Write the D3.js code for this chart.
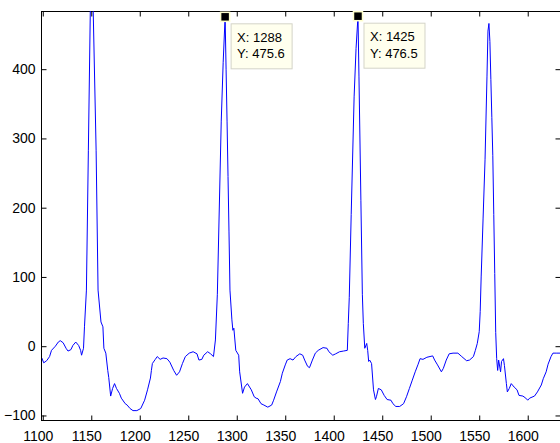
<!DOCTYPE html>
<html>
<head>
<meta charset="utf-8">
<script src="https://cdn.jsdelivr.net/npm/d3@7"></script>
<style>
  body { margin: 0; background: #fff; }
  svg { display: block; font-family: "Liberation Sans", Arial, sans-serif; }
  .axis text { font-size: 14px; fill: #000; }
  .axis line { stroke: #000; }
</style>
</head>
<body>
<svg id="chart" width="560" height="443"></svg>
<script>
// signal samples
const sampleX = [1099, 1101, 1104, 1107, 1109, 1113, 1116, 1118, 1121, 1124, 1126, 1129, 1131, 1134, 1137, 1139, 1140, 1142,
  1143, 1145, 1147, 1149, 1150, 1151, 1152, 1155, 1157, 1160, 1162, 1163, 1165, 1167, 1168, 1170, 1172, 1174, 1176, 1179,
  1181, 1185, 1187, 1190, 1193, 1197, 1201, 1205, 1208, 1211, 1212, 1213, 1216, 1218, 1221, 1224, 1228, 1231, 1235, 1238,
  1241, 1244, 1247, 1251, 1255, 1259, 1261, 1264, 1266, 1270, 1273, 1276, 1278, 1280, 1284, 1286, 1288, 1289, 1290, 1291,
  1292, 1293, 1295, 1296, 1297, 1299, 1302, 1303, 1306, 1308, 1311, 1315, 1318, 1320, 1322, 1325, 1328, 1332, 1336, 1338,
  1341, 1345, 1347, 1350, 1352, 1355, 1358, 1361, 1365, 1368, 1370, 1373, 1375, 1378, 1381, 1384, 1389, 1393, 1395, 1399,
  1402, 1406, 1410, 1414, 1415, 1416, 1418, 1421, 1423, 1425, 1426, 1428, 1429.5, 1430.5, 1432, 1434, 1435, 1436, 1437,
  1439, 1441, 1443, 1444, 1446, 1449, 1452, 1455, 1459, 1461, 1464, 1468, 1472, 1475, 1478, 1481, 1484, 1487, 1489, 1492,
  1496, 1502, 1504, 1507, 1511, 1513, 1516, 1519, 1523, 1528, 1532, 1537, 1540, 1544, 1546, 1548, 1550, 1551, 1552, 1554,
  1556, 1558, 1559, 1560, 1561, 1562, 1563, 1564, 1565, 1566, 1567, 1568, 1569, 1570, 1572, 1573, 1575, 1576, 1578, 1579,
  1581, 1583, 1586, 1589, 1591, 1595, 1598, 1600, 1602, 1607, 1610, 1614, 1616, 1619, 1621, 1624, 1626, 1630, 1635];
const sampleY = [-17, -24, -21, -15, -6, 0, 6, 8, 5, -3, -7, -5, 1, 6, 1, -6, -13, -3,
  28, 81, 283, 484, 545, 550, 484, 283, 81, 35, 28, -3, -10, -35, -45, -72, -61, -54, -61, -68,
  -75, -83, -85, -90, -93, -93, -90, -78, -63, -46, -35, -25, -19, -15, -19, -17, -18, -23, -35, -42,
  -37, -25, -15, -10, -8, -11, -20, -19, -13, -8, -11, -15, 9, 75, 325, 410, 475.6, 400, 325, 245,
  165, 81, 38, 23, 26, -6, -13, -37, -68, -59, -54, -63, -73, -75, -76, -83, -85, -88, -85, -78,
  -66, -51, -39, -27, -20, -18, -20, -15, -11, -13, -20, -29, -31, -20, -10, -6, -2, -3, -8, -13,
  -11, -8, -7, -6, 33, 70, 190, 360, 430, 476.5, 390, 210, 75, 33, -3, 4, -6, -22, -20,
  -25, -63, -77, -73, -61, -63, -71, -77, -78, -83, -87, -87, -83, -73, -61, -49, -37, -26, -18, -19,
  -16, -14, -20, -27, -37, -32, -20, -11, -10, -10, -15, -21, -20, -15, -6, 4, 21, 50, 100, 185,
  270, 390, 455, 466, 440, 385, 330, 275, 190, 105, 20, -18, -35, -20, -37, -22, -18, -28, -54, -66,
  -61, -54, -59, -63, -71, -72, -75, -78, -75, -72, -66, -56, -47, -37, -26, -15, -10, -10, -10];

const xTicks = [1100, 1150, 1200, 1250, 1300, 1350, 1400, 1450, 1500, 1550, 1600];
const yTicks = [-100, 0, 100, 200, 300, 400];

// data tips
const tipX = [1288, 1425];
const tipY = [475.6, 476.5];

const svg = d3.select("#chart");
const plotLeft = 42, plotTop = 11, plotRight = 560.5, plotBottom = 420.5;

const x = d3.scaleLinear().domain([1099.2, 1634]).range([plotLeft, 560.7]);
const y = d3.scaleLinear().domain([-108, 484]).range([421, plotTop]);

svg.append("clipPath").attr("id", "plotClip")
  .append("rect")
  .attr("x", plotLeft).attr("y", plotTop)
  .attr("width", plotRight - plotLeft).attr("height", plotBottom - plotTop);

// ticks point inward on all four sides
const gx = svg.append("g").attr("class", "axis")
  .attr("transform", `translate(0,${plotBottom})`)
  .call(d3.axisBottom(x).tickValues(xTicks).tickSize(-5).tickPadding(11).tickFormat(d3.format("d")));
gx.selectAll("text").attr("dx", "-5");

svg.append("g").attr("class", "axis")
  .attr("transform", `translate(0,${plotTop + 0.5})`)
  .call(d3.axisTop(x).tickValues(xTicks).tickSize(-5).tickFormat(""));

svg.append("g").attr("class", "axis")
  .attr("transform", `translate(${plotLeft - 0.5},0)`)
  .call(d3.axisLeft(y).tickValues(yTicks).tickSize(-5).tickPadding(6));

svg.append("g").attr("class", "axis")
  .attr("transform", `translate(${plotRight},0)`)
  .call(d3.axisRight(y).tickValues(yTicks).tickSize(-5).tickFormat(""));

svg.selectAll(".axis .domain").remove();

// box
svg.append("rect")
  .attr("x", plotLeft - 0.5).attr("y", plotTop + 0.5)
  .attr("width", plotRight - plotLeft + 0.5).attr("height", plotBottom - plotTop - 0.5)
  .attr("fill", "none").attr("stroke", "#000");

const line = d3.line()
  .x((d, i) => x(sampleX[i]))
  .y(d => y(d));

svg.append("path")
  .datum(sampleY)
  .attr("clip-path", "url(#plotClip)")
  .attr("fill", "none")
  .attr("stroke", "#0000ff")
  .attr("stroke-width", 1)
  .attr("d", line);

// data tip markers and boxes
tipX.forEach((tx, i) => {
  const cx = x(tx), cy = y(tipY[i]);
  const g = svg.append("g");
  g.append("rect")
    .attr("x", cx + 6).attr("y", cy + 7)
    .attr("width", 61).attr("height", 45)
    .attr("fill", "#ffffee").attr("stroke", "#d4d4c8");
  g.append("text")
    .attr("x", cx + 12).attr("y", cy + 25)
    .attr("font-size", 13)
    .text("X: " + tx);
  g.append("text")
    .attr("x", cx + 12).attr("y", cy + 41.5)
    .attr("font-size", 13)
    .text("Y: " + tipY[i].toFixed(1));
  g.append("rect")
    .attr("x", cx - 4.5).attr("y", cy - 4.5)
    .attr("width", 9).attr("height", 9)
    .attr("fill", "#000").attr("stroke", "#ffffcc").attr("stroke-width", 1.5);
});
</script>
</body>
</html>
